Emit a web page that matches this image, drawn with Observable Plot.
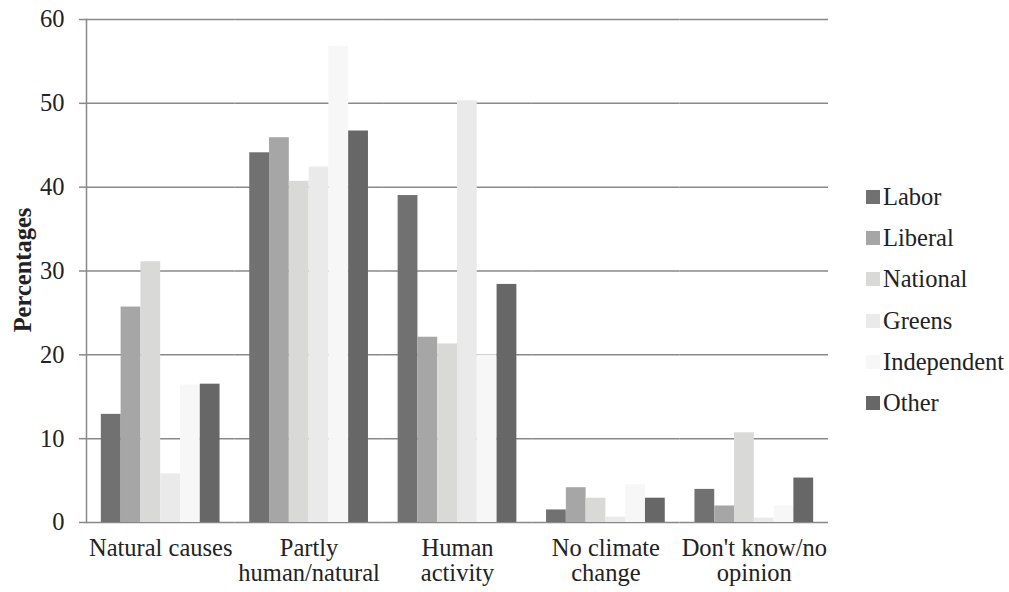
<!DOCTYPE html>
<html>
<head>
<meta charset="utf-8">
<script src="https://cdn.jsdelivr.net/npm/d3@7"></script>
<script src="https://cdn.jsdelivr.net/npm/@observablehq/plot@0.6"></script>
<style>
  body { margin: 0; background: #fff; }
  #wrap { position: relative; width: 1009px; height: 592px; font-family: "Liberation Serif", "Times New Roman", serif; color: #222; }
  #ylabel { position: absolute; left: 23px; top: 270px; transform: translate(-50%, -50%) rotate(-90deg); font-weight: bold; font-size: 24.5px; line-height: 1; white-space: nowrap; }
  #legend { position: absolute; left: 866px; top: 176px; }
  .item { display: flex; align-items: center; height: 41.3px; font-size: 24.5px; }
  .sw { width: 14px; height: 14px; margin-right: 3px; flex: none; }
</style>
</head>
<body>
<div id="wrap">
  <div id="chart"></div>
  <div id="ylabel">Percentages</div>
  <div id="legend"></div>
</div>
<script>
const categories = ["Natural causes", "Partly human/natural", "Human activity", "No climate change", "Don't know/no opinion"];
const tickLabels = ["Natural causes", "Partly\nhuman/natural", "Human\nactivity", "No climate\nchange", "Don't know/no\nopinion"];
const parties = ["Labor", "Liberal", "National", "Greens", "Independent", "Other"];
const colors = ["#717171", "#a6a6a6", "#d9d9d8", "#eaeaea", "#f6f7f6", "#676767"];
const yTicks = [0, 10, 20, 30, 40, 50, 60];

const labor       = [12.9, 44.1, 39.0, 1.5, 3.95];
const liberal     = [25.7, 45.9, 22.1, 4.15, 1.97];
const national    = [31.1, 40.7, 21.3, 2.9, 10.7];
const greens      = [5.8, 42.4, 50.3, 0.64, 0.52];
const independent = [16.4, 56.8, 20.0, 4.5, 1.97];
const other       = [16.5, 46.7, 28.4, 2.9, 5.3];

const series = [labor, liberal, national, greens, independent, other];
const data = [];
categories.forEach((c, i) => parties.forEach((p, j) => data.push({category: c, party: p, value: series[j][i]})));

const gridColor = "#898989";

const chart = Plot.plot({
  width: 1009,
  height: 592,
  marginLeft: 86,
  marginRight: 181,
  marginTop: 19,
  marginBottom: 70,
  style: {fontFamily: "'Liberation Serif', 'Times New Roman', serif", fontSize: "24.5px", color: "#222", background: "transparent"},
  fx: {domain: categories, padding: 0, round: false, label: null},
  x: {domain: parties, paddingInner: 0, paddingOuter: 0.75, round: false, axis: null},
  y: {domain: [0, 60], label: null},
  color: {domain: parties, range: colors},
  marks: [
    Plot.gridY(yTicks, {stroke: gridColor, strokeOpacity: 1, strokeWidth: 1.5}),
    Plot.barY(data, {fx: "category", x: "party", y: "value", fill: "party"}),
    Plot.frame({anchor: "left", facetAnchor: "left", stroke: gridColor, strokeWidth: 1.5}),
    Plot.axisY(yTicks, {tickSize: 7, tickPadding: 15, stroke: gridColor, strokeWidth: 1.5, label: null, fill: "#222"}),
    Plot.axisFx({anchor: "bottom", tickSize: 0, tickPadding: 15, lineHeight: 1.05, label: null, fill: "#222",
      tickFormat: c => tickLabels[categories.indexOf(c)]})
  ]
});
document.getElementById("chart").appendChild(chart);

const legend = document.getElementById("legend");
parties.forEach((p, j) => {
  const item = document.createElement("div");
  item.className = "item";
  const sw = document.createElement("span");
  sw.className = "sw";
  sw.style.background = colors[j];
  const label = document.createElement("span");
  label.textContent = p;
  item.appendChild(sw);
  item.appendChild(label);
  legend.appendChild(item);
});
</script>
</body>
</html>
